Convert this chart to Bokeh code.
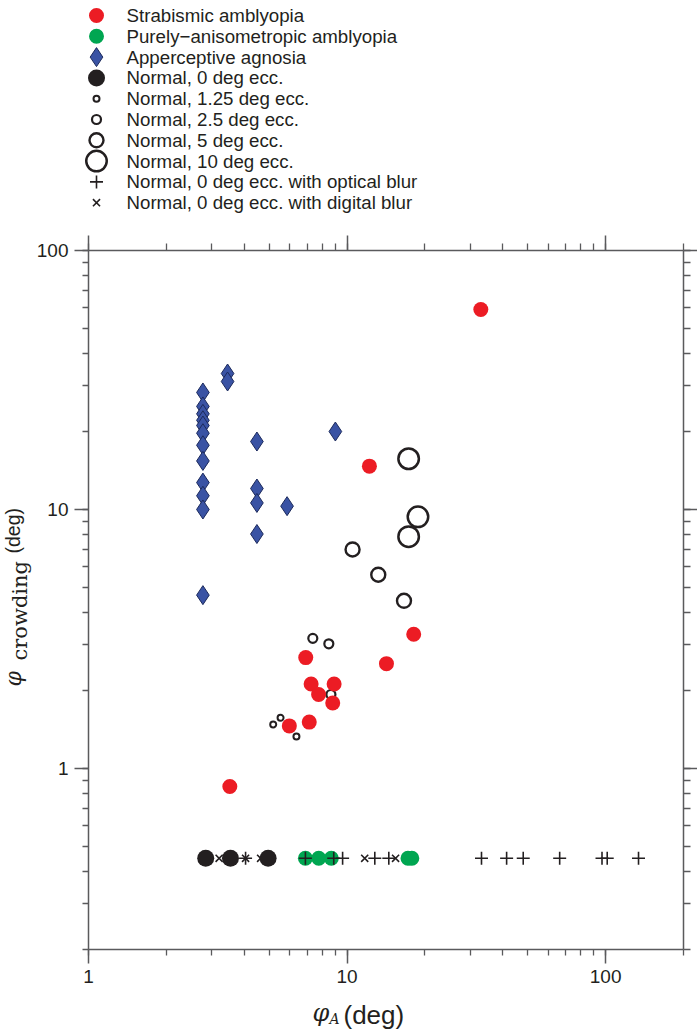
import math
from bokeh.plotting import figure
from bokeh.layouts import column, row
from bokeh.models import LogAxis, LogTicker, CustomJSTickFormatter, Range1d
from bokeh.core.properties import value
from bokeh.embed import file_html
from bokeh.resources import INLINE

# ---------------- data ----------------
strab_x = [32.9, 12.2, 18.1, 14.2, 6.92, 7.26, 8.91, 7.76, 8.80, 5.98, 7.14, 3.52]
strab_y = [59.2, 14.7, 3.30, 2.54, 2.68, 2.12, 2.12, 1.93, 1.79, 1.46, 1.51, 0.852]

aniso_x = [6.90, 7.77, 8.69, 17.2, 17.8]
aniso_y = [0.45, 0.45, 0.45, 0.45, 0.45]

agnosia_x = [2.77, 2.77, 2.77, 2.77, 2.77, 2.77, 2.77, 2.77, 2.77, 2.77, 2.77, 2.77,
             3.45, 3.45, 4.48, 4.48, 4.48, 4.48, 5.86, 9.01]
agnosia_y = [28.3, 25.0, 23.4, 22.1, 21.1, 19.7, 17.7, 15.4, 12.7, 11.3, 10.0, 4.67,
             33.5, 31.2, 18.3, 12.05, 10.6, 8.04, 10.3, 20.0]

ecc0_x = [2.84, 3.54, 4.95]
ecc0_y = [0.45, 0.45, 0.45]
ecc125_x = [5.18, 5.53, 6.37]
ecc125_y = [1.48, 1.57, 1.33]
ecc25_x = [7.37, 8.50, 8.66]
ecc25_y = [3.18, 3.03, 1.93]
ecc5_x = [10.5, 13.2, 16.6]
ecc5_y = [7.01, 5.60, 4.44]
ecc10_x = [17.3, 18.8, 17.3]
ecc10_y = [15.7, 9.37, 7.85]

optical_x = [4.05, 6.90, 8.88, 9.61, 12.8, 14.5, 33.1, 41.4, 48.0, 66.4, 96.8, 101.4, 134.0]
optical_y = [0.45] * 13
digital_x = [3.20, 4.05, 4.63, 11.7, 15.4]
digital_y = [0.45] * 5

legend_labels = [
    "Strabismic amblyopia",
    "Purely\u2212anisometropic amblyopia",
    "Apperceptive agnosia",
    "Normal, 0 deg ecc.",
    "Normal, 1.25 deg ecc.",
    "Normal, 2.5 deg ecc.",
    "Normal, 5 deg ecc.",
    "Normal, 10 deg ecc.",
    "Normal, 0 deg ecc. with optical blur",
    "Normal, 0 deg ecc. with digital blur",
]

x_title = ["\u03c6", "A", "(deg)"]
y_title = ["\u03c6", "crowding", "(deg)"]

# ---------------- styles ----------------
RED = "#ec1c24"
GREEN = "#00a651"
BLUE = "#3a53a4"
BLUE_EDGE = "#1c2a5c"
INK = "#231f20"
AXIS = "#5a5a5c"
SERIF = "DejaVu Serif"

styles = [
    dict(marker="circle", size=15, fill_color=RED, line_color=None, line_width=0),
    dict(marker="circle", size=15, fill_color=GREEN, line_color=None, line_width=0),
    dict(marker="diamond", size=19, fill_color=BLUE, line_color=BLUE_EDGE, line_width=1),
    dict(marker="circle", size=17, fill_color=INK, line_color=None, line_width=0),
    dict(marker="circle", size=6, fill_color=None, line_color=INK, line_width=2),
    dict(marker="circle", size=9, fill_color=None, line_color=INK, line_width=2.2),
    dict(marker="circle", size=14, fill_color=None, line_color=INK, line_width=2.4),
    dict(marker="circle", size=20.5, fill_color=None, line_color=INK, line_width=2.5),
    dict(marker="cross", size=13, fill_color=None, line_color=INK, line_width=1.6),
    dict(marker="x", size=10, fill_color=None, line_color=INK, line_width=1.6),
]

W = 697
LEG_H = 228
MID_H = 771
XLAB_H = 33
YLAB_W = 33


def blank_fig(w, h, xr, yr):
    f = figure(width=w, height=h, x_range=Range1d(*xr), y_range=Range1d(*yr),
               toolbar_location=None, output_backend="svg", min_border=0,
               outline_line_color=None, x_axis_location=None, y_axis_location=None,
               frame_align=False)
    f.grid.visible = False
    return f


# ---------------- legend figure (page pixel coordinates) ----------------
leg = blank_fig(W, LEG_H, (0, W), (LEG_H, 0))
row_gap = 20.8
row_y = [15 + row_gap * i for i in range(len(legend_labels))]
for i, st in enumerate(styles):
    leg.scatter(x=[96], y=[row_y[i]], **st)
leg.text(x=[126] * len(legend_labels), y=row_y, text=legend_labels,
         text_baseline="middle", text_align="left",
         text_font=value("Liberation Sans"), text_font_size="18.7px", text_color=INK)

# ---------------- y-axis title strip (page pixel coordinates) ----------------
ylab = blank_fig(YLAB_W, MID_H, (0, YLAB_W), (LEG_H + MID_H, LEG_H))
ylab.text(x=[13], y=[686], text=[y_title[0]], angle=math.pi / 2,
          text_font=value(SERIF), text_font_style="italic",
          text_font_size="22px", text_color=INK, text_baseline="middle", text_align="left")
ylab.text(x=[19], y=[660], text=[y_title[1]], angle=math.pi / 2,
          text_font=value(SERIF),
          text_font_size="21px", text_color=INK, text_baseline="middle", text_align="left")
ylab.text(x=[12.5], y=[553], text=[y_title[2]], angle=math.pi / 2,
          text_font=value("Liberation Sans"),
          text_font_size="19.5px", text_color=INK, text_baseline="middle", text_align="left")

# ---------------- x-axis title strip (page pixel coordinates) ----------------
top_x = LEG_H + MID_H
xlab = blank_fig(W, XLAB_H, (0, W), (top_x + XLAB_H, top_x))
xlab.text(x=[312], y=[1012], text=[x_title[0]],
          text_font=value(SERIF), text_font_style="italic",
          text_font_size="24px", text_color=INK, text_baseline="middle", text_align="left")
xlab.text(x=[329], y=[1018], text=[x_title[1]],
          text_font=value(SERIF), text_font_style="italic",
          text_font_size="14px", text_color=INK, text_baseline="middle", text_align="left")
xlab.text(x=[343], y=[1014], text=[x_title[2]],
          text_font=value("Liberation Sans"),
          text_font_size="26px", text_color=INK, text_baseline="middle", text_align="left")

# ---------------- main figure ----------------
p = figure(width=W - YLAB_W, height=MID_H, x_axis_type="log", y_axis_type="log",
           x_range=Range1d(1, 200), y_range=Range1d(0.2, 100),
           toolbar_location=None, output_backend="svg",
           min_border_left=53, min_border_right=0, min_border_top=22, min_border_bottom=50,
           outline_line_color=None, frame_align=False)
p.grid.visible = False

fmt = CustomJSTickFormatter(code="return String(tick);")
blank = CustomJSTickFormatter(code="return '';")


def style_axis(ax, labels=True, major_out=14, minor_out=6):
    ax.ticker = LogTicker(num_minor_ticks=10)
    ax.axis_line_color = AXIS
    ax.axis_line_width = 1.5
    ax.major_tick_line_color = AXIS
    ax.minor_tick_line_color = AXIS
    ax.major_tick_line_width = 1.5
    ax.minor_tick_line_width = 1.3
    ax.major_tick_out = major_out
    ax.minor_tick_out = minor_out
    ax.major_tick_in = 0
    ax.minor_tick_in = 0
    if labels:
        ax.formatter = fmt
        ax.major_label_text_font = "Liberation Sans"
        ax.major_label_text_font_size = "19px"
        ax.major_label_text_color = INK
        ax.major_label_standoff = 6
    else:
        ax.formatter = blank
        ax.major_label_text_font_size = "2px"
        ax.major_label_text_color = None
        ax.major_label_standoff = 0


style_axis(p.xaxis[0])
style_axis(p.yaxis[0])
top = LogAxis()
right = LogAxis()
style_axis(top, labels=False, major_out=15, minor_out=7)
style_axis(right, labels=False, major_out=14, minor_out=7)
p.add_layout(top, "above")
p.add_layout(right, "right")

# marks (drawing order matters for overlaps)
p.scatter(x=ecc125_x, y=ecc125_y, **styles[4])
p.scatter(x=ecc25_x, y=ecc25_y, **styles[5])
p.scatter(x=ecc5_x, y=ecc5_y, **styles[6])
p.scatter(x=ecc10_x, y=ecc10_y, **styles[7])
p.scatter(x=strab_x, y=strab_y, **styles[0])
p.scatter(x=agnosia_x, y=agnosia_y, **styles[2])
p.scatter(x=digital_x, y=digital_y, **styles[9])
p.scatter(x=ecc0_x, y=ecc0_y, **styles[3])
p.scatter(x=aniso_x, y=aniso_y, **styles[1])
p.scatter(x=optical_x, y=optical_y, **styles[8])

layout = column(leg, row(ylab, p, spacing=0), xlab, spacing=0)
open("out.html", "w").write(file_html(layout, INLINE))
